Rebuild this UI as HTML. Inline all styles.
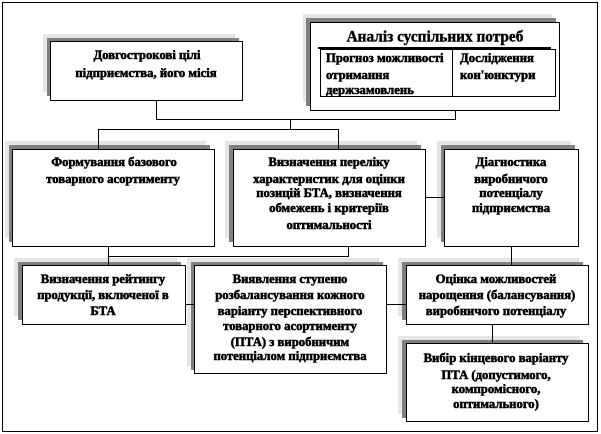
<!DOCTYPE html>
<html><head><meta charset="utf-8">
<style>
html,body{margin:0;padding:0;background:#fff;width:601px;height:434px;overflow:hidden}
svg{display:block}
text{font-family:"Liberation Serif",serif;font-weight:bold;font-size:12.7px;fill:#000;stroke:#000;stroke-width:.55;text-anchor:middle;dominant-baseline:central}
text.l{text-anchor:start}
text.t{font-size:15.3px;stroke-width:.4}
.d{fill:#808080}.g{fill:#e5e5e5}
.b{fill:#fff;stroke:#000;stroke-width:1}
path{fill:none;stroke:#000;stroke-width:1}
</style></head><body>
<svg width="601" height="434" viewBox="0 0 601 434" shape-rendering="crispEdges">
<rect x="2.5" y="2.5" width="595" height="429" fill="#fff" stroke="#000"/>

<!-- shadows -->
<rect class="g" x="43" y="34" width="192" height="58"/><rect class="d" x="47" y="38" width="192" height="58"/>
<rect class="g" x="303" y="14" width="249" height="88"/><rect class="d" x="306" y="18" width="250" height="88"/>
<rect class="g" x="5" y="141" width="201" height="97"/><rect class="d" x="9" y="145" width="201" height="97"/>
<rect class="g" x="225" y="141" width="192" height="97"/><rect class="d" x="229" y="145" width="192" height="97"/>
<rect class="g" x="437" y="141" width="134" height="97"/><rect class="d" x="441" y="145" width="134" height="97"/>
<rect class="g" x="14" y="258" width="163" height="58"/><rect class="d" x="18" y="262" width="163" height="58"/>
<rect class="g" x="187" y="258" width="192" height="108"/><rect class="d" x="191" y="262" width="192" height="108"/>
<rect class="g" x="398" y="258" width="181" height="58"/><rect class="d" x="402" y="262" width="181" height="58"/>
<rect class="g" x="398" y="336" width="181" height="78"/><rect class="d" x="402" y="340" width="181" height="78"/>

<!-- connectors -->
<path d="M156.500 100V119.500H455.500V110"/>
<path d="M290.500 119.500V129.500M98.500 149V129.500H338.500V149"/>
<path d="M425 197.500H444"/>
<path d="M108.500 246V265M108.500 256.500H348.500V246"/>
<path d="M185 304.500H194M386 304.500H406"/>
<path d="M511.500 246V265M492.500 324V343"/>

<!-- boxes -->
<rect class="b" x="50.500" y="41.500" width="192" height="59"/>
<rect class="b" x="310.500" y="22.500" width="249" height="88"/>
<rect class="b" x="12.500" y="149.500" width="202" height="97"/>
<rect class="b" x="233.500" y="149.500" width="192" height="97"/>
<rect class="b" x="444.500" y="149.500" width="134" height="97"/>
<rect class="b" x="22.500" y="265.500" width="163" height="59"/>
<rect class="b" x="194.500" y="265.500" width="192" height="108"/>
<rect class="b" x="406.500" y="265.500" width="182" height="59"/>
<rect class="b" x="406.500" y="343.500" width="182" height="78"/>

<!-- inner table -->
<rect class="b" x="320.500" y="49.500" width="235" height="47"/>
<path d="M452.500 49V96"/>
<rect x="318" y="47" width="233" height="2" fill="#000"/>

<!-- text -->
<text x="147" y="55">Довгострокові цілі</text>
<text x="146" y="73">підприємства, його місія</text>

<text class="t" x="435" y="37">Аналіз суспільних потреб</text>
<text class="l" x="326" y="58">Прогноз можливості</text>
<text class="l" x="326" y="75">отримання</text>
<text class="l" x="326" y="90">держзамовлень</text>
<text class="l" x="460" y="58">Дослідження</text>
<text class="l" x="460" y="75">кон'юнктури</text>

<text x="114" y="162">Формування базового</text>
<text x="113" y="179">товарного асортименту</text>

<text x="329" y="162">Визначення переліку</text>
<text x="329" y="179">характеристик для оцінки</text>
<text x="329" y="193">позицій БТА, визначення</text>
<text x="329" y="208">обмежень і критеріїв</text>
<text x="329" y="225">оптимальності</text>

<text x="511" y="162">Діагностика</text>
<text x="511" y="179">виробничого</text>
<text x="511" y="193">потенціалу</text>
<text x="511" y="208">підприємства</text>

<text x="103" y="279">Визначення рейтингу</text>
<text x="103" y="295">продукції, включеної в</text>
<text x="103" y="311">БТА</text>

<text x="290" y="279">Виявлення ступеню</text>
<text x="290" y="295">розбалансування кожного</text>
<text x="290" y="311">варіанту перспективного</text>
<text x="290" y="326">товарного асортименту</text>
<text x="290" y="342">(ПТА) з виробничим</text>
<text x="290" y="356">потенціалом підприємства</text>

<text x="496" y="279">Оцінка можливостей</text>
<text x="497" y="295">нарощення (балансування)</text>
<text x="496" y="311">виробничого потенціалу</text>

<text x="496" y="358">Вибір кінцевого варіанту</text>
<text x="496" y="375">ПТА (допустимого,</text>
<text x="496" y="389">компромісного,</text>
<text x="496" y="404">оптимального)</text>
</svg>
</body></html>
